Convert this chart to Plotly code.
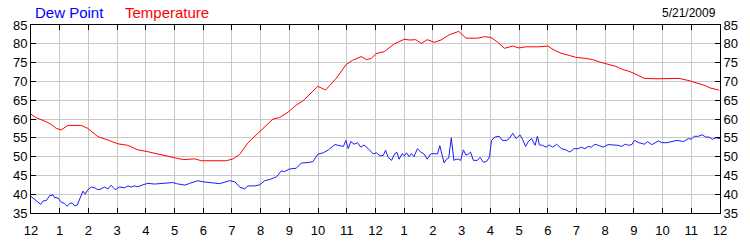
import plotly.graph_objects as go

# Hours after midnight (0 = 12 AM, 24 = next 12 AM)
temp_hours = [0, 0.17, 0.52, 0.7, 0.88, 1.05, 1.29, 1.75, 1.98, 2.33, 2.68, 3.03, 3.37, 3.72, 4.07,
              4.53, 4.88, 5.3, 5.7, 5.94, 6.8, 7.04, 7.27, 7.56, 7.9, 8.2, 8.43, 8.66, 8.95, 9.24,
              9.47, 9.82, 9.99, 10.26, 10.63, 10.98, 11.2, 11.5, 11.68, 11.85, 12.02, 12.3, 12.66,
              13.0, 13.2, 13.4, 13.6, 13.8, 14.05, 14.28, 14.57, 14.9, 15.15, 15.56, 15.8, 16.02,
              16.26, 16.49, 16.78, 17.0, 17.24, 17.7, 18.0, 18.23, 18.46, 18.75, 18.98, 19.33,
              19.56, 19.79, 20.02, 20.37, 20.6, 20.83, 21.07, 21.36, 21.76, 21.99, 22.28, 22.57,
              22.92, 23.21, 23.44, 23.68, 23.97]
temp_values = [61.3, 60.4, 59.3, 58.6, 57.5, 57.1, 58.3, 58.3, 57.5, 55.3, 54.4, 53.4, 53.0, 51.8, 51.3,
               50.6, 49.9, 49.2, 49.4, 48.9, 48.9, 49.4, 50.6, 53.7, 56.2, 58.3, 60.0, 60.4, 61.8, 63.7,
               64.8, 67.4, 68.7, 67.7, 70.8, 74.5, 75.6, 76.6, 75.8, 76.1, 77.4, 77.9, 80.0,
               81.2, 81.0, 81.1, 80.1, 81.1, 80.4, 81.0, 82.4, 83.3, 81.5, 81.5, 81.9, 81.7,
               80.4, 78.8, 79.4, 78.9, 79.2, 79.2, 79.4, 78.3, 77.5, 76.9, 76.4, 76.1,
               75.8, 75.2, 74.8, 74.0, 73.2, 72.7, 71.9, 70.8, 70.7, 70.7, 70.9, 70.8,
               70.2, 69.6, 69.0, 68.2, 67.7]

dew_hours = [0, 0.13, 0.34, 0.42, 0.53, 0.65, 0.77, 0.82, 0.94, 1.05, 1.17, 1.26, 1.34, 1.43, 1.52,
             1.61, 1.69, 1.81, 1.89, 1.98, 2.1, 2.22, 2.33, 2.44, 2.56, 2.68, 2.79, 2.93, 3.08,
             3.26, 3.37, 3.49, 3.6, 3.72, 3.9, 4.07, 4.3, 4.53, 4.77, 4.94, 5.07, 5.36, 5.53,
             5.82, 5.99, 6.22, 6.57, 6.92, 7.1, 7.27, 7.44, 7.56, 7.79, 7.97, 8.14, 8.31, 8.55,
             8.72, 8.83, 9.0, 9.24, 9.42, 9.65, 9.82, 10.0, 10.18, 10.36, 10.59, 10.76, 10.88,
             10.97, 11.05, 11.14, 11.26, 11.37, 11.49, 11.6, 11.75, 11.92, 12.03, 12.15, 12.27,
             12.35, 12.44, 12.56, 12.67, 12.75, 12.82, 12.93, 13.0, 13.08, 13.17, 13.25, 13.34,
             13.46, 13.58, 13.69, 13.8, 13.92, 14.04, 14.16, 14.24, 14.32, 14.39, 14.47, 14.55,
             14.64, 14.73, 14.81, 14.89, 14.97, 15.06, 15.15, 15.24, 15.31, 15.41, 15.55, 15.64,
             15.76, 15.87, 15.97, 16.04, 16.16, 16.31, 16.42, 16.57, 16.66, 16.78, 16.9, 17.03,
             17.12, 17.23, 17.32, 17.44, 17.56, 17.64, 17.71, 17.82, 17.94, 18.05, 18.17, 18.31,
             18.48, 18.63, 18.77, 18.91, 19.06, 19.17, 19.29, 19.41, 19.52, 19.64, 19.76, 19.93,
             20.1, 20.27, 20.45, 20.57, 20.7, 20.81, 20.93, 21.02, 21.17, 21.37, 21.48, 21.62,
             21.71, 21.85, 21.97, 22.15, 22.38, 22.5, 22.73, 22.9, 23.0, 23.1, 23.24, 23.38,
             23.5, 23.62, 23.73, 23.85, 24.0]
dew_values = [39.4, 38.6, 37.3, 38.2, 38.3, 39.6, 39.8, 39.1, 39.0, 37.9, 37.5, 36.8, 37.5, 37.7, 36.9,
              37.1, 38.6, 40.8, 40.0, 41.2, 41.9, 41.7, 41.2, 41.4, 41.9, 41.4, 42.4, 41.2, 41.9,
              41.7, 42.2, 41.9, 42.2, 42.0, 42.5, 42.9, 42.7, 42.9, 43.1, 43.1, 42.8, 42.4, 42.9,
              43.6, 43.3, 43.1, 42.8, 43.6, 43.3, 41.9, 41.4, 42.2, 42.2, 42.5, 43.6, 43.9, 44.6,
              46.2, 46.0, 46.7, 46.9, 48.3, 48.4, 48.7, 50.7, 51.0, 51.8, 53.2, 53.0, 52.7,
              54.3, 52.1, 54.0, 53.3, 53.7, 52.5, 53.1, 52.1, 50.7, 51.0, 50.2, 50.3,
              51.7, 49.8, 49.0, 50.8, 51.1, 49.3, 50.8, 50.2, 51.0, 50.0, 50.8, 50.0,
              52.1, 51.2, 50.7, 49.3, 50.7, 50.8, 50.7, 52.9, 50.4, 48.3, 49.3, 49.6,
              55.0, 49.0, 49.3, 49.3, 49.0, 51.8, 50.4, 50.7, 51.2, 49.0, 49.0, 49.8,
              48.5, 48.7, 49.9, 54.3, 55.2, 55.4, 54.3, 54.3, 54.8, 56.2, 54.8, 55.8,
              54.6, 52.7, 54.0, 54.8, 53.0, 55.4, 53.1, 53.0, 52.5, 53.1, 52.5, 53.3,
              52.1, 51.8, 51.2, 52.1, 52.1, 52.5, 52.1, 52.7, 52.5, 53.3, 53.0, 52.5,
              53.2, 53.2, 53.0, 52.7, 53.3, 53.0, 53.2, 54.3, 53.7, 53.3, 54.0, 53.2,
              53.5, 54.2, 53.7, 53.7, 54.0, 54.3, 54.0, 54.8, 54.6, 55.4, 55.4, 55.8,
              55.2, 55.2, 54.6, 55.0, 54.8]

tick_hours = list(range(0, 25))
tick_labels = ["12", "1", "2", "3", "4", "5", "6", "7", "8", "9", "10", "11",
               "12", "1", "2", "3", "4", "5", "6", "7", "8", "9", "10", "11", "12"]
y_ticks = [35, 40, 45, 50, 55, 60, 65, 70, 75, 80, 85]
date_label = "5/21/2009"

FONT = "Arial, Liberation Sans, sans-serif"
GRID = "#c8c8c8"

fig = go.Figure()
fig.add_trace(go.Scatter(x=dew_hours, y=dew_values, mode="lines", name="Dew Point",
                         line=dict(color="#1a1aff", width=1), yaxis="y"))
fig.add_trace(go.Scatter(x=temp_hours, y=temp_values, mode="lines", name="Temperature",
                         line=dict(color="#ff0000", width=1), yaxis="y2"))

fig.update_layout(
    width=750, height=250,
    margin=dict(l=31, r=29, t=25, b=25),
    paper_bgcolor="white", plot_bgcolor="white",
    showlegend=False,
    font=dict(family=FONT, size=12, color="black"),
    xaxis=dict(range=[0, 24], tickmode="array", tickvals=tick_hours, ticktext=tick_labels,
               showgrid=True, gridcolor=GRID, gridwidth=1, zeroline=False,
               showline=True, linecolor="black", linewidth=1, mirror="ticks",
               ticks="inside", ticklen=5, tickcolor="black", ticklabelstandoff=5,
               tickfont=dict(family=FONT, size=13, color="black")),
    yaxis=dict(range=[35, 85], tickmode="array", tickvals=y_ticks,
               showgrid=True, gridcolor=GRID, gridwidth=1, zeroline=False,
               showline=True, linecolor="black", linewidth=1,
               ticks="inside", ticklen=5, tickcolor="black",
               tickfont=dict(family=FONT, size=13, color="black")),
    yaxis2=dict(range=[35, 85], tickmode="array", tickvals=y_ticks, overlaying="y", side="right",
                showgrid=False, zeroline=False,
                showline=True, linecolor="black", linewidth=1,
                ticks="inside", ticklen=5, tickcolor="black",
                tickfont=dict(family=FONT, size=13, color="black")),
    annotations=[
        dict(text="Dew Point", xref="paper", yref="paper", x=(33 - 31) / 690, y=(225 - 12) / 200,
             xanchor="left", yanchor="middle", showarrow=False,
             font=dict(family=FONT, size=15, color="#0000ff")),
        dict(text="Temperature", xref="paper", yref="paper", x=(123 - 31) / 690, y=(225 - 12) / 200,
             xanchor="left", yanchor="middle", showarrow=False,
             font=dict(family=FONT, size=15, color="#ff0000")),
        dict(text=date_label, xref="paper", yref="paper", x=(719 - 31) / 690, y=(225 - 12) / 200,
             xanchor="right", yanchor="middle", showarrow=False,
             font=dict(family=FONT, size=12, color="black")),
    ],
)

fig.write_html("out.html")
